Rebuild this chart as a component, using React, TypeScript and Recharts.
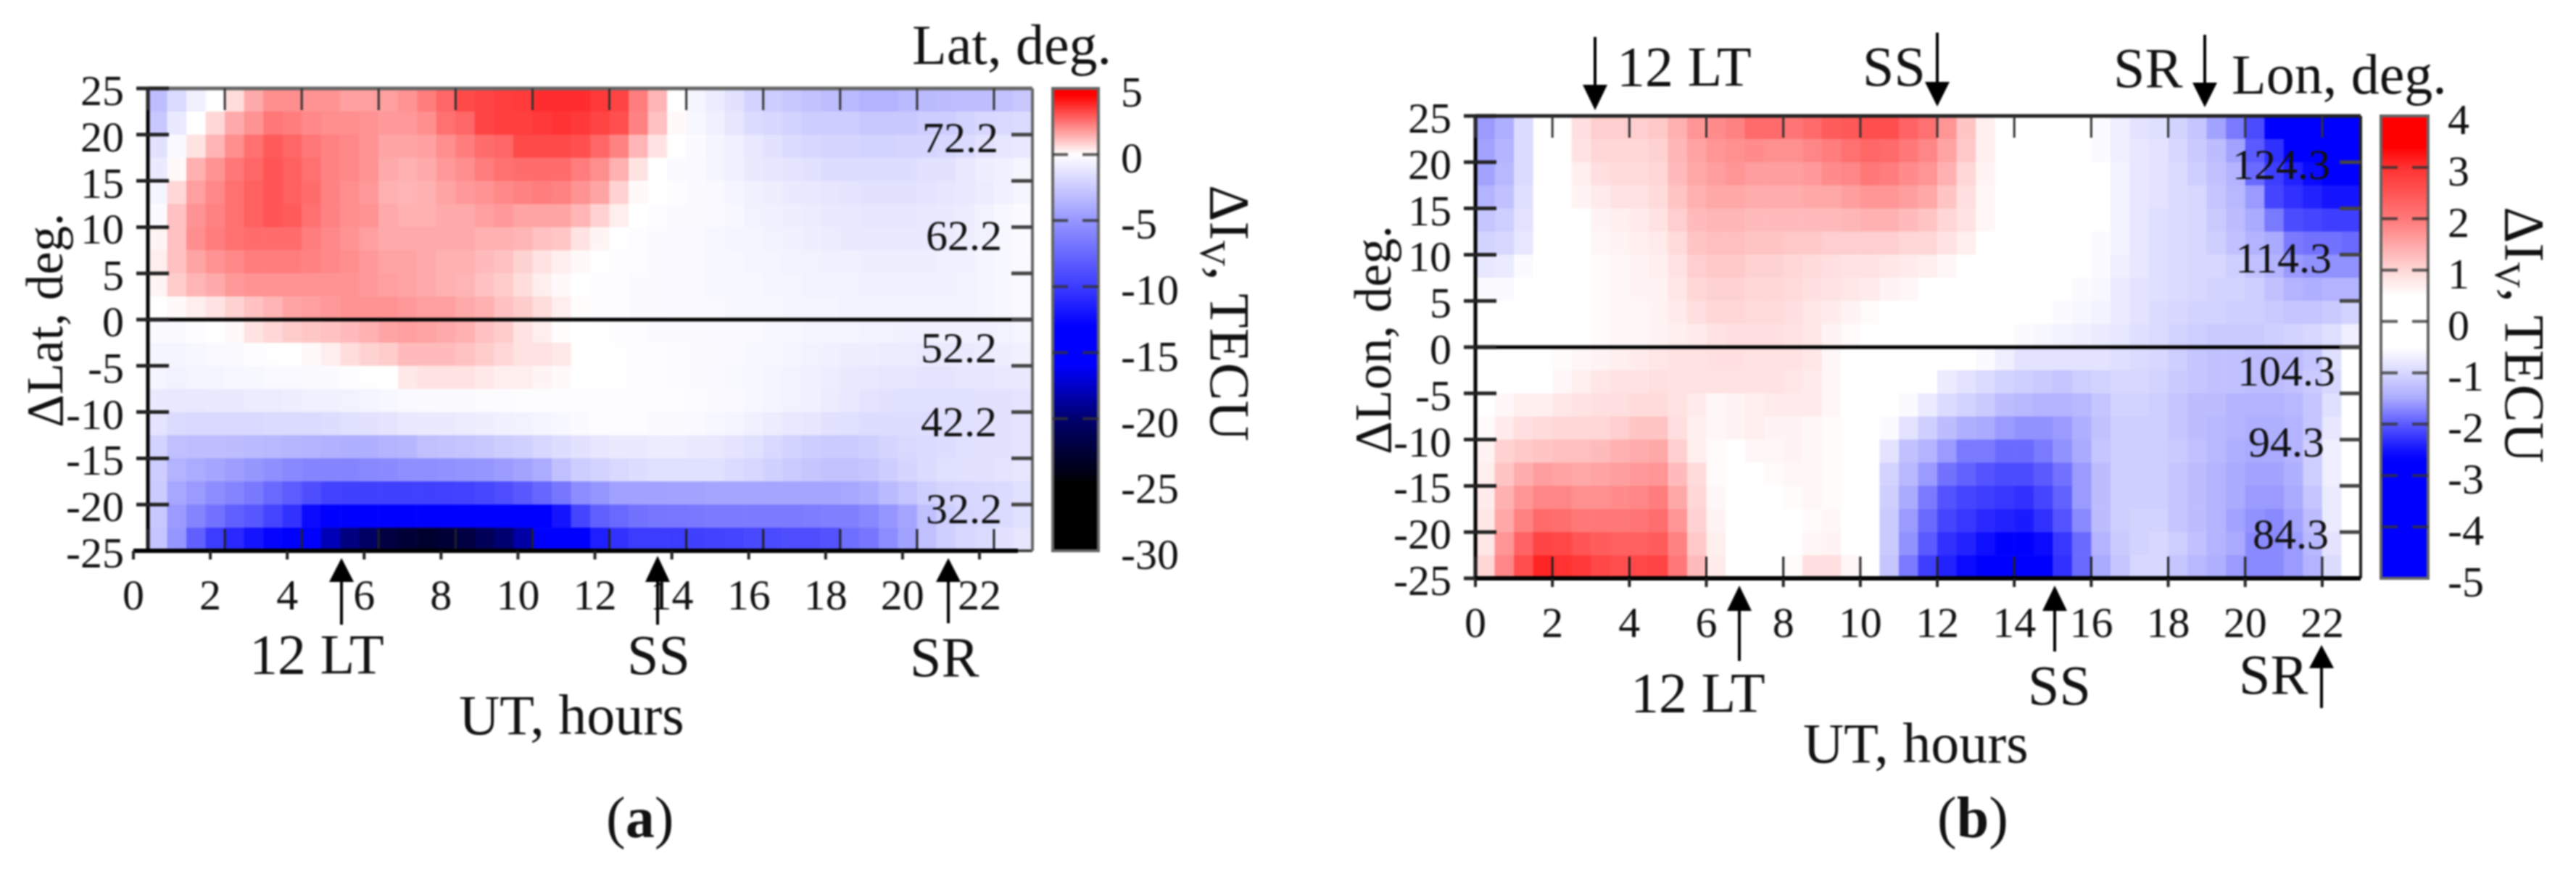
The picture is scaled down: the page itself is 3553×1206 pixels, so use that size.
import React from "react";
import { ScatterChart, Scatter, XAxis, YAxis, ReferenceLine, ReferenceArea } from "recharts";

const UT_TICKS = [0, 2, 4, 6, 8, 10, 12, 14, 16, 18, 20, 22];
const OFFSET_TICKS = [25, 20, 15, 10, 5, 0, -5, -10, -15, -20, -25];
const LAT_BAR_TICKS = [5, 0, -5, -10, -15, -20, -25, -30];
const LON_BAR_TICKS = [4, 3, 2, 1, 0, -1, -2, -3, -4, -5];
const LAT_LABELS = ["72.2", "62.2", "52.2", "42.2", "32.2"];
const LON_LABELS = ["124.3", "114.3", "104.3", "94.3", "84.3"];

// rows run from +25 (top) down to -25 in 2.5 degree bins; columns are half-hour UT bins
const LAT_ROWS: number[][] = [
  [-3.1,-1.7,-0.7,0,0.6, 1.5,2,2,1.9,1.9, 1.7,1.7,1.7,1.9,2.3, 2.7,3.2,3.3,3.4,3.45, 3.7,3.7,3.7,3.5,3.3, 2.3,1.3,0,-0.5,-0.9, -1.4,-2.1,-2.4,-2.6,-2.9, -3.1,-3.3,-3.6,-3.6,-3.3, -3.3,-3.2,-3.1,-3.1,-2.9, -2.6],
  [-2.6,-1,0,.7,1.5, 1.9,2.4,2.3,2.1,2, 2,1.9,1.8,1.8,2, 2.5,2.7,3.3,3.4,3.4, 3.5,3.6,3.5,3.3,3.1, 2.2,1.1,.1,-.4,-.7, -1.2,-1.7,-1.9,-2.1,-2.4, -2.4,-2.4,-2.6,-2.6,-2.6, -2.4,-2.4,-2.1,-1.9,-1.8, -1.7],
  [-1.4,-.3,.5,1.3,2, 2.5,2.9,2.7,2.4,2.2, 2.1,1.9,1.6,1.6,1.7, 2,2.3,2.6,2.7,3.2, 3.2,3.2,3.1,2.7,2.2, 1.3,.5,0,-.2,-.5, -.7,-1.1,-1.4,-1.7,-1.9, -2,-2,-2.1,-2.1,-2, -2,-1.9,-1.7,-1.4,-1.2, -1.1],
  [-1,.1,1.4,1.9,2.4, 2.7,3,2.8,2.5,2.2, 2.1,1.9,1.5,1.4,1.5, 1.8,2,2.3,2.5,2.6, 2.6,2.6,2.3,2,1.4, .5,0,-.2,-.3,-.5, -.7,-1,-1.2,-1.3,-1.4, -1.6,-1.6,-1.6,-1.6,-1.6, -1.4,-1.4,-1.1,-.8,-.7, -.5],
  [-.5,.7,1.7,2.1,2.5, 2.8,3,2.8,2.6,2.2, 2,1.8,1.4,1.3,1.4, 1.6,1.8,1.9,2.1,2.2, 2.3,2.2,1.9,1.6,.8, .1,0,-.1,-.2,-.3, -.5,-.7,-.8,-1,-1.1, -1.2,-1.3,-1.4,-1.4,-1.4, -1.3,-1.2,-1.1,-.9,-.7, -.5],
  [-.2,1.1,1.9,2.2,2.5, 2.8,3,2.9,2.5,2.2, 2,1.9,1.5,1.4,1.4, 1.5,1.5,1.7,1.8,1.6, 1.6,1.6,1.3,.8,.3, 0,-.1,-.2,-.2,-.3, -.4,-.6,-.7,-.8,-.9, -1,-1.1,-1.2,-1.2,-1.2, -1.1,-1,-.9,-.6,-.4, -.2],
  [.2,1.1,2,2.3,2.5, 2.6,2.6,2.6,2.3,2.1, 1.9,1.7,1.5,1.5,1.5, 1.5,1.5,1.4,1.4,1.3, 1.1,1,.5,.2,0, -.1,-.2,-.3,-.3,-.4, -.5,-.5,-.6,-.7,-.8, -.9,-1,-1,-1,-1, -1,-.9,-.8,-.6,-.4, -.2],
  [.3,1.1,1.6,1.9,2.1, 2.3,2.3,2.3,2.2,2.1, 2,1.8,1.6,1.6,1.5, 1.4,1.4,1.2,1.1,.8, .5,.3,.1,0,-.1, -.1,-.2,-.3,-.3,-.4, -.4,-.5,-.5,-.6,-.6, -.7,-.7,-.8,-.8,-.8, -.8,-.7,-.7,-.5,-.4, -.3],
  [.2,.9,1.3,1.5,1.8, 1.9,1.9,1.9,1.9,1.9, 1.9,1.8,1.7,1.6,1.5, 1.4,1.3,1.1,.9,.6, .3,.1,0,-.1,-.1, -.2,-.2,-.3,-.3,-.4, -.4,-.4,-.5,-.5,-.6, -.6,-.6,-.7,-.7,-.7, -.7,-.7,-.6,-.5,-.4, -.3],
  [0,.1,.3,.5,.8, 1.1,1.3,1.6,1.7,1.8, 1.9,1.9,1.9,1.8,1.7, 1.7,1.5,1.4,1.1,.9, .6,.3,.05,-.1,-.1, -.2,-.2,-.3,-.3,-.3, -.4,-.4,-.4,-.5,-.5, -.5,-.6,-.6,-.6,-.6, -.6,-.6,-.6,-.5,-.4, -.3],
  [-.2,-.2,-.1,0,.1, .5,.7,.9,1,1.1, 1.2,1.4,1.6,1.7,1.6, 1.5,1.4,1.1,.9,.5, .3,.05,0,-.05,-.1, -.1,-.2,-.2,-.2,-.3, -.3,-.3,-.4,-.4,-.5, -.5,-.5,-.6,-.6,-.7, -.7,-.7,-.7,-.7,-.6, -.5],
  [-.5,-.5,-.4,-.3,-.2, -.1,-.05,0,.1,.3, .6,.8,.9,1.2,1.2, 1.2,1.1,.9,.7,.5, .5,.4,0,0,-.05, -.1,-.1,-.15,-.2,-.25, -.3,-.4,-.4,-.5,-.6, -.7,-.8,-.8,-.9,-.9, -1,-1,-1,-.9,-.8, -.7],
  [-.5,-.6,-.5,-.5,-.4, -.4,-.3,-.3,-.2,-.2, -.1,-.05,0,.4,.5, .5,.5,.4,.3,.3, .2,.1,0,0,-.05, -.1,-.1,-.15,-.2,-.3, -.35,-.4,-.5,-.6,-.7, -.85,-1,-1.1,-1.2,-1.2, -1.3,-1.3,-1.2,-1.2,-1.1, -1],
  [-1,-1.1,-1.1,-1,-1, -.9,-.9,-.8,-.7,-.7, -.6,-.5,-.4,-.3,-.25, -.2,-.2,-.15,-.15,-.1, -.1,-.1,-.1,-.1,-.1, -.1,-.1,-.1,-.15,-.2, -.3,-.4,-.5,-.6,-.7, -.9,-1.1,-1.3,-1.4,-1.5, -1.5,-1.5,-1.5,-1.4,-1.4, -1.3],
  [-1.3,-1.7,-1.8,-1.8,-1.8, -1.8,-1.7,-1.7,-1.7,-1.6, -1.5,-1.4,-1.3,-1.1,-1, -1,-.9,-.8,-.7,-.6, -.5,-.4,-.2,-.1,-.1, -.1,-.2,-.2,-.3,-.4, -.5,-.7,-.9,-1.1,-1.2, -1.4,-1.5,-1.6,-1.6,-1.6, -1.6,-1.6,-1.5,-1.4,-1.4, -1.3],
  [-2.1,-3,-3.1,-3.1,-3.2, -3.3,-3.4,-3.5,-3.6,-3.7, -3.8,-3.8,-3.6,-3.5,-3, -2.9,-2.8,-2.6,-2.4,-2.2, -1.9,-1.6,-1.4,-1.2,-1, -1,-.9,-.9,-1,-1.1, -1.3,-1.5,-1.8,-2.1,-2.4, -2.5,-2.5,-2.3,-2,-1.8, -1.7,-1.6,-1.5,-1.4,-1.4, -1.3],
  [-2.4,-3.6,-4,-4.3,-4.6, -5,-5.4,-5.8,-6,-6, -6,-5.8,-5.6,-5.4,-5.4, -5.3,-5.1,-5,-4.7,-4.4, -4,-3,-2.4,-2.1,-1.8, -1.6,-1.5,-1.5,-1.5,-1.5, -1.7,-1.9,-2.2,-2.5,-2.7, -2.9,-2.9,-2.7,-2.4,-2, -1.7,-1.5,-1.4,-1.4,-1.3, -1.2],
  [-2.5,-4.2,-4.8,-5.5,-6, -6.6,-7.5,-8.2,-9,-9.6, -9.8,-9.8,-9.8,-9.8,-9.8, -9.7,-9.6,-9.4,-9,-8.4, -7.6,-6.8,-5.5,-5,-4.5, -4.5,-4.5,-4.4,-4.4,-4.3, -4.3,-4.3,-4.3,-4.3,-4.3, -4.3,-4.2,-3.9,-3.3,-2.8, -2.3,-2,-1.9,-1.8,-1.7, -1.5],
  [-2.6,-4.8,-6,-7,-8, -8.5,-9.5,-10.5,-12.5,-13.5, -14,-14,-14,-14,-14, -14,-14,-14,-14,-14, -13.5,-12,-9.5,-8,-7.5, -7,-6.8,-6.7,-6.6,-6.5, -6.5,-6.5,-6.5,-6.5,-6.4, -6.3,-6.2,-5.8,-5,-4.3, -3,-2.3,-2,-1.9,-1.7, -1.5],
  [-2.8,-5,-8,-10,-11, -12,-12.8,-14,-15,-18, -19.5,-20.5,-22,-22.5,-23, -22.5,-22,-21,-20,-18.5, -15,-14,-13,-11.5,-10.5, -10,-10,-10,-9.8,-9.6, -9.5,-9.3,-9.2,-9,-9, -8.8,-7.2,-6.8,-5.5,-4.5, -3,-2.3,-1.9,-1.7,-1.4, -1.2],
];

const LON_ROWS: number[][] = [
  [-1.6,-1.45,-.95,0,0, .9,1.1,1.1,1.1,1.15, 1.4,1.7,1.8,1.9,2.2, 2.2,2.05,2.2,2.4,2.45, 2.6,2.6,2.3,2.1,1.7, 1.2,.7,0,0,0, 0,0,-.55,-.7,-.85, -.9,-1.05,-1.2,-1.55,-1.8, -2.1,-2.7,-2.8,-3,-3, -3],
  [-1.55,-1.4,-.95,0,0, .85,1,1,1,1.05, 1.35,1.55,1.7,1.75,1.8, 1.75,1.75,1.85,1.95,2.1, 2.25,2.2,2,1.85,1.55, 1.15,.7,0,0,0, 0,0,-.55,-.7,-.8, -.85,-1,-1.15,-1.3,-1.55, -2,-2.3,-2.8,-3,-3, -3],
  [-1.55,-1.35,-.95,0,0, .7,.9,.95,.95,1, 1.3,1.5,1.6,1.7,1.6, 1.6,1.6,1.65,1.8,1.85, 2,1.95,1.8,1.7,1.4, 1,.65,0,0,0, 0,0,-.5,-.65,-.8, -.85,-.95,-1.1,-1.25,-1.4, -1.9,-2.2,-2.4,-2.6,-2.7, -2.8],
  [-1.4,-1.25,-.9,0,0, .65,.75,.85,.85,.95, 1.2,1.4,1.5,1.5,1.45, 1.45,1.45,1.5,1.5,1.6, 1.7,1.7,1.6,1.5,1.2, .9,.6,0,0,0, 0,0,-.5,-.65,-.8, -.85,-.95,-1,-1.2,-1.35, -1.6,-2.15,-2.3,-2.4,-2.5, -2.5],
  [-1.2,-1.1,-.85,0,0, 0,.65,.7,.75,.85, 1.1,1.3,1.35,1.35,1.3, 1.3,1.3,1.3,1.3,1.35, 1.4,1.4,1.3,1.2,1, .85,.6,0,0,0, 0,0,-.5,-.65,-.8, -.9,-.95,-1,-1.15,-1.3, -1.5,-1.8,-2.1,-2.15,-2.2, -2.2],
  [-1.05,-1,-.8,0,0, 0,.6,.65,.7,.75, .95,1.2,1.25,1.25,1.2, 1.2,1.15,1.15,1.1,1.1, 1.1,1.1,1,1,.85, .7,0,0,0,0, 0,0,-.55,-.65,-.8, -.9,-.95,-1,-1.1,-1.25, -1.4,-1.5,-1.8,-1.85,-1.85, -1.9],
  [-.8,-.75,-.55,0,0, 0,.55,.6,.65,.7, .85,1.1,1.15,1.15,1.05, 1.05,1,.95,.9,.85, .85,.8,.75,.7,.6, 0,0,0,0,0, 0,0,-.55,-.7,-.8, -.9,-.95,-1,-1,-1.1, -1.25,-1.4,-1.6,-1.65,-1.65, -1.65],
  [-.55,-.55,0,0,0, 0,.55,.6,.65,.65, .8,1,1.05,1.05,1, 1,.95,.9,.85,.8, .75,.65,.6,0,0, 0,0,0,0,0, -.5,-.55,-.6,-.75,-.85, -.9,-.95,-1,-1.05,-1.05, -1.1,-1.25,-1.4,-1.45,-1.4, -1.4],
  [0,0,0,0,0, 0,.55,.6,.6,.65, .75,.9,1,1,.95, .95,.9,.8,.75,.65, .55,0,0,0,0, 0,0,0,-.5,-.5, -.55,-.6,-.65,-.75,-.85, -.95,-1,-1.05,-1.05,-1.1, -1.1,-1.15,-1.2,-1.2,-1.15, -1.05],
  [0,0,0,0,0, 0,.55,.6,.6,.65, .7,.75,.85,.9,.9, .9,.85,.8,.65,.55, 0,0,0,0,0, 0,0,-.5,-.55,-.6, -.65,-.7,-.75,-.8,-.9, -.95,-1.05,-1.1,-1.15,-1.15, -1.15,-1.1,-1.05,-1,-.9, -.7],
  [0,0,0,0,.55, .6,.65,.7,.75,.8, .85,.85,.9,.9,.85, .85,.85,.8,.6,0, 0,0,0,0,0, 0,-.55,-.7,-.85,-.85, -.85,-.85,-.85,-.9,-.95, -1,-1.1,-1.2,-1.25,-1.25, -1.3,-1.3,-1.3,-1.2,-.9, 0],
  [0,0,0,0,.6, .7,.8,.85,.85,.9, .85,.85,.85,.85,.85, .85,.8,.75,.6,0, 0,0,0,-.5,-.75, -.85,-.95,-1.05,-1.1,-1.15, -1.2,-1.1,-1.05,-1,-1, -1.05,-1.15,-1.2,-1.25,-1.25, -1.3,-1.3,-1.25,-1.15,-1, 0],
  [0,.6,.7,.7,.8, .85,.9,.9,.95,.95, .85,.75,.6,.65,.7, .75,.75,.75,.6,0, 0,0,-.55,-.75,-.95, -1.05,-1.15,-1.3,-1.35,-1.4, -1.4,-1.35,-1.2,-1.05,-1.05, -1.1,-1.2,-1.3,-1.3,-1.4, -1.4,-1.4,-1.35,-1.2,-.9, 0],
  [.55,.75,.9,.95,1, 1,1,1.1,1.2,1.2, .9,.7,.6,.65,.7, .65,.65,.6,.55,0, 0,-.55,-.85,-1.1,-1.3, -1.45,-1.5,-1.6,-1.65,-1.65, -1.6,-1.45,-1.25,-1.1,-1.1, -1.1,-1.2,-1.3,-1.35,-1.4, -1.45,-1.45,-1.4,-1.2,-.8, 0],
  [.65,1.05,1.15,1.2,1.25, 1.25,1.3,1.4,1.45,1.5, 1.1,.7,.55,0,.6, .6,.65,.6,.55,0, 0,-.85,-1.25,-1.4,-1.6, -1.8,-1.8,-1.9,-1.9,-1.8, -1.65,-1.5,-1.2,-1.1,-1.1, -1.1,-1.15,-1.25,-1.35,-1.45, -1.5,-1.5,-1.4,-1.1,-.7, 0],
  [.7,1.2,1.45,1.6,1.55, 1.5,1.55,1.6,1.65,1.7, 1.3,.95,.55,0,0, .55,.6,.6,.55,0, 0,-1.05,-1.35,-1.6,-1.85, -1.95,-2.05,-2.1,-2.1,-2, -1.85,-1.6,-1.3,-1.1,-1.1, -1.1,-1.2,-1.3,-1.4,-1.5, -1.55,-1.55,-1.45,-1.1,-.7, 0],
  [.75,1.4,1.7,1.85,1.85, 1.75,1.75,1.8,1.85,1.95, 1.5,1,.6,0,0, 0,.55,.6,.55,0, 0,-1.1,-1.5,-1.8,-2.05, -2.15,-2.2,-2.25,-2.3,-2.15, -1.95,-1.6,-1.3,-1.1,-1.1, -1.1,-1.2,-1.3,-1.4,-1.5, -1.6,-1.6,-1.5,-1.2,-.75, 0],
  [.8,1.5,1.9,2.2,2.15, 2,2,2,2.05,2.15, 1.7,1.05,.65,0,0, 0,.5,.55,.6,0, 0,-1.15,-1.6,-1.9,-2.15, -2.25,-2.35,-2.4,-2.45,-2.3, -2.05,-1.7,-1.3,-1.1,-1.05, -1.05,-1.2,-1.3,-1.4,-1.55, -1.65,-1.7,-1.55,-1.3,-.75, -.5],
  [.8,1.7,2.3,2.75,2.7, 2.5,2.4,2.35,2.35,2.4, 1.9,1.15,.7,0,0, 0,.5,.6,.65,.5, 0,-1.15,-1.65,-2,-2.3, -2.4,-2.55,-2.7,-2.8,-2.6, -2.25,-1.9,-1.4,-1.15,-1.05, -1,-1.1,-1.25,-1.4,-1.5, -1.7,-1.7,-1.6,-1.35,-.85, -.5],
  [1,1.85,2.6,3.1,3, 2.9,2.7,2.6,2.7,2.75, 2,1.3,.75,0,0, 0,.55,.9,.9,.6, 0,-1.2,-1.8,-2.2,-2.4, -2.6,-2.7,-2.9,-3,-2.8, -2.3,-1.9,-1.5,-1.2,-1, -1,-1.2,-1.35,-1.45,-1.6, -1.7,-1.7,-1.6,-1.4,-.95, 0],
];

// value, r, g, b
type Stop = [number, number, number, number];
const LAT_STOPS: Stop[] = [[5,255,0,0],[4.5,255,0,0],[0,255,255,255],[-5,150,150,255],[-10,60,60,255],[-13,0,0,255],[-16,0,0,255],[-20,0,0,110],[-25,0,0,0],[-30,0,0,0]];
const LON_STOPS: Stop[] = [[4,255,0,0],[3.4,255,0,0],[3,255,50,50],[2,255,120,120],[1,255,215,215],[.5,255,255,255],[-.5,255,255,255],[-1,215,215,255],[-1.5,170,170,255],[-2,90,90,255],[-2.5,20,20,255],[-2.7,0,0,255],[-5,0,0,255]];
// one invisible point so that Recharts resolves an axis that carries no data of its own
const AXIS_ANCHOR = [{ x: 0, y: 0 }];

const colorOf = (v: number, stops: Stop[]) => {
  if (v >= stops[0][0]) return `rgb(${stops[0][1]},${stops[0][2]},${stops[0][3]})`;
  for (let i = 1; i < stops.length; i++) {
    const a = stops[i - 1], b = stops[i];
    if (v >= b[0]) {
      const t = (a[0] - v) / (a[0] - b[0]);
      const m = (k: number) => Math.round(a[k] + (b[k] - a[k]) * t);
      return `rgb(${m(1)},${m(2)},${m(3)})`;
    }
  }
  const l = stops[stops.length - 1];
  return `rgb(${l[1]},${l[2]},${l[3]})`;
};

const toCells = (rows: number[][]) =>
  rows.flatMap((row, r) => row.map((v, c) => ({ x: c * 0.5 + 0.25, y: 25 - r * 2.5 - 1.25, v })));

const W = 3553, H = 1206;
const FONT = "'Liberation Serif', serif";
const INK = "#111";
const layer: React.CSSProperties = { position: "absolute", left: 0, top: 0, width: W, height: H };
const AXIS = 40;
const noShape = () => <g />;

const LeftTick = (p: any) => (
  <g>
    <line x1={p.x - 16} x2={p.x + 29} y1={p.y} y2={p.y} stroke="#222" strokeWidth={5} />
    <text x={p.x - 33} y={p.y + 23} textAnchor="end" fontSize={60} fontFamily={FONT} fill={INK}>{p.payload.value}</text>
  </g>
);
const RightTick = (p: any) => <line x1={p.x - 29} x2={p.x} y1={p.y} y2={p.y} stroke="#444" strokeWidth={5} />;
const TopTick = (p: any) => <line x1={p.x} x2={p.x} y1={p.y} y2={p.y + 30} stroke="#333" strokeWidth={3} />;
const InnerBottomTick = (p: any) => <line x1={p.x} x2={p.x} y1={p.y} y2={p.y - 30} stroke="#222" strokeWidth={3} />;
const OuterBottomTick = (p: any) => (
  <g>
    <line x1={p.x} x2={p.x} y1={p.y} y2={p.y + 12} stroke="#222" strokeWidth={4} />
    <text x={p.x} y={p.y + 81} textAnchor="middle" fontSize={60} fontFamily={FONT} fill={INK}>{p.payload.value}</text>
  </g>
);

type PanelProps = {
  rows: number[][]; stops: Stop[]; x0: number; x1: number; y0: number; y1: number;
  axisShift: number; frame: string;
};

const HeatPanel = ({ rows, stops, x0, x1, y0, y1, axisShift, frame }: PanelProps) => {
  const cw = (x1 - x0) / rows[0].length;
  const ch = (y1 - y0) / rows.length;
  const shape = (p: any) => (
    <rect x={p.cx - cw / 2} y={p.cy - ch / 2} width={cw + 0.6} height={ch + 0.6} fill={colorOf(p.payload.v, stops)} />
  );
  return (
    <>
      <div style={layer}>
        <ScatterChart width={W} height={H} margin={{ left: x0, right: W - x1, top: y0, bottom: H - y1 }}>
          <Scatter data={toCells(rows)} dataKey="y" shape={shape} isAnimationActive={false} />
          <XAxis type="number" dataKey="x" domain={[0, 23]} hide />
          <YAxis type="number" dataKey="y" domain={[-25, 25]} hide />
        </ScatterChart>
      </div>
      <div style={layer}>
        <ScatterChart width={W} height={H} margin={{ left: x0 - AXIS, right: W - x1 - AXIS, top: y0 - AXIS, bottom: H - y1 - AXIS }}>
          <Scatter data={AXIS_ANCHOR} xAxisId="b" yAxisId="l" dataKey="y" shape={noShape} isAnimationActive={false} />
          <Scatter data={AXIS_ANCHOR} xAxisId="t" yAxisId="r" dataKey="y" shape={noShape} isAnimationActive={false} />
          <XAxis xAxisId="t" orientation="top" type="number" dataKey="x" domain={[0, 23]} ticks={UT_TICKS} interval={0} height={AXIS} tickSize={0} tickMargin={0} tickLine={false} axisLine={{ stroke: frame, strokeWidth: 5 }} tick={TopTick} />
          <XAxis xAxisId="b" orientation="bottom" type="number" dataKey="x" domain={[0, 23]} ticks={UT_TICKS} interval={0} height={AXIS} tickSize={0} tickMargin={0} tickLine={false} axisLine={{ stroke: "#444", strokeWidth: 4 }} tick={InnerBottomTick} />
          <YAxis yAxisId="l" orientation="left" type="number" dataKey="y" domain={[-25, 25]} ticks={OFFSET_TICKS} interval={0} width={AXIS} tickSize={0} tickMargin={0} tickLine={false} axisLine={{ stroke: "#000", strokeWidth: 5 }} tick={LeftTick} />
          <YAxis yAxisId="r" orientation="right" type="number" dataKey="y" domain={[-25, 25]} ticks={OFFSET_TICKS.slice(1, -1)} interval={0} width={AXIS} tickSize={0} tickMargin={0} tickLine={false} axisLine={{ stroke: frame, strokeWidth: 4 }} tick={RightTick} />
          <ReferenceLine xAxisId="b" yAxisId="l" y={0} stroke="#000" strokeWidth={5} />
        </ScatterChart>
      </div>
      <div style={layer}>
        <ScatterChart width={W} height={H} margin={{ left: x0 + axisShift, right: W - x1 - axisShift, top: y0, bottom: H - y1 - AXIS }}>
          <Scatter data={AXIS_ANCHOR} dataKey="y" shape={noShape} isAnimationActive={false} />
          <XAxis orientation="bottom" type="number" dataKey="x" domain={[0, 23]} ticks={UT_TICKS} interval={0} height={AXIS} tickSize={0} tickMargin={0} tickLine={false} axisLine={{ stroke: "#000", strokeWidth: 6 }} tick={OuterBottomTick} />
          <YAxis type="number" dataKey="y" domain={[-25, 25]} hide />
        </ScatterChart>
      </div>
    </>
  );
};

type BarProps = { id: string; stops: Stop[]; ticks: number[]; dashed: number[]; x0: number; x1: number; y0: number; y1: number; textX: number };

const ColorBar = ({ id, stops, ticks, dashed, x0, x1, y0, y1, textX }: BarProps) => {
  const top = ticks[0], bottom = ticks[ticks.length - 1];
  const barTick = (p: any) => (
    <text x={textX} y={p.y + 25} fontSize={60} fontFamily={FONT} fill={INK}>{p.payload.value}</text>
  );
  return (
    <div style={layer}>
      <ScatterChart width={W} height={H} margin={{ left: x0, right: W - x1 - AXIS, top: y0, bottom: H - y1 }}>
        <defs>
          <linearGradient id={id} x1="0" y1="0" x2="0" y2="1">
            {stops.map((s, i) => (
              <stop key={i} offset={(top - s[0]) / (top - bottom)} stopColor={`rgb(${s[1]},${s[2]},${s[3]})`} />
            ))}
          </linearGradient>
        </defs>
        <Scatter data={AXIS_ANCHOR} dataKey="y" shape={noShape} isAnimationActive={false} />
        <XAxis type="number" dataKey="x" domain={[0, 1]} hide />
        <YAxis orientation="right" type="number" dataKey="y" domain={[bottom, top]} ticks={ticks} interval={0} width={AXIS} tickSize={0} tickMargin={0} tickLine={false} axisLine={false} tick={barTick} />
        <ReferenceArea x1={0} x2={1} y1={bottom} y2={top} fill={`url(#${id})`} fillOpacity={1} stroke="#666" strokeWidth={4} />
        {dashed.map((d) => (
          <ReferenceLine key={d} y={d} stroke="#333" strokeOpacity={0.8} strokeWidth={4} strokeDasharray="22 20" />
        ))}
      </ScatterChart>
    </div>
  );
};

const Txt = ({ x, y, s, anchor = "start", size = 78 }: { x: number; y: number; s: React.ReactNode; anchor?: string; size?: number }) => (
  <text x={x} y={y} fontSize={size} textAnchor={anchor as any} fontFamily={FONT} fill={INK}>{s}</text>
);

const Arrow = ({ x, tip, base, end }: { x: number; tip: number; base: number; end: number }) => (
  <g>
    <line x1={x} x2={x} y1={base} y2={end} stroke="#000" strokeWidth={4} />
    <polygon points={`${x},${tip} ${x - 17},${base} ${x + 17},${base}`} fill="#000" />
  </g>
);

const RotLabel = ({ x, y, angle, size, children }: { x: number; y: number; angle: number; size: number; children: React.ReactNode }) => (
  <text transform={`translate(${x},${y}) rotate(${angle})`} textAnchor="middle" fontSize={size} fontFamily={FONT} fill={INK}>{children}</text>
);

const Annotations = () => (
  <svg style={layer} width={W} height={H}>
    <Txt x={1258} y={88} s="Lat, deg." />
    <RotLabel x={86} y={442} angle={-90} size={71}>ΔLat, deg.</RotLabel>
    <RotLabel x={1670} y={432} angle={90} size={78}>ΔI<tspan dy="14" fontSize={50}>V</tspan><tspan dy="-14">, TECU</tspan></RotLabel>
    {LAT_LABELS.map((s, i) => (
      <Txt key={s} x={[1377, 1382, 1375, 1375, 1382][i]} y={[210, 345, 500, 602, 722][i]} s={s} anchor="end" size={60} />
    ))}
    <Arrow x={471} tip={770} base={803} end={862} />
    <Arrow x={907} tip={767} base={803} end={862} />
    <Arrow x={1308} tip={770} base={803} end={860} />
    <Txt x={344} y={929} s="12 LT" />
    <Txt x={865} y={930} s="SS" />
    <Txt x={1255} y={933} s="SR" />
    <Txt x={633} y={1013} s="UT, hours" />
    <text x={836} y={1155} fontSize={80} fontFamily={FONT} fill={INK}>(<tspan fontWeight="bold">a</tspan>)</text>

    <Txt x={3078} y={129} s="Lon, deg." />
    <RotLabel x={1918} y={469} angle={-90} size={71}>ΔLon, deg.</RotLabel>
    <RotLabel x={3456} y={462} angle={90} size={78}>ΔI<tspan dy="14" fontSize={50}>V</tspan><tspan dy="-14">, TECU</tspan></RotLabel>
    {LON_LABELS.map((s, i) => (
      <Txt key={s} x={[3214, 3216, 3221, 3206, 3212][i]} y={[247, 376, 532, 630, 757][i]} s={s} anchor="end" size={60} />
    ))}
    <Arrow x={2200} tip={152} base={117} end={51} />
    <Arrow x={2672} tip={147} base={113} end={45} />
    <Arrow x={3041} tip={148} base={114} end={48} />
    <Arrow x={2399} tip={808} base={843} end={912} />
    <Arrow x={2834} tip={808} base={843} end={899} />
    <Arrow x={3202} tip={890} base={922} end={977} />
    <Txt x={2230} y={118} s="12 LT" />
    <Txt x={2569} y={118} s="SS" />
    <Txt x={2915} y={120} s="SR" />
    <Txt x={2249} y={982} s="12 LT" />
    <Txt x={2797} y={972} s="SS" />
    <Txt x={3088} y={957} s="SR" />
    <Txt x={2487} y={1052} s="UT, hours" />
    <text x={2672} y={1155} fontSize={80} fontFamily={FONT} fill={INK}>(<tspan fontWeight="bold">b</tspan>)</text>
  </svg>
);

export default function App() {
  return (
    <div style={{ ...layer, background: "#fff", overflow: "hidden", filter: "blur(1.2px)" }}>
      <style>{"body{margin:0}"}</style>
      <HeatPanel rows={LAT_ROWS} stops={LAT_STOPS} x0={204} x1={1424} y0={122} y1={760} axisShift={-20} frame="#666" />
      <ColorBar id="latBar" stops={LAT_STOPS} ticks={LAT_BAR_TICKS} dashed={[0, -5, -10, -15, -20]} x0={1452} x1={1515} y0={122} y1={760} textX={1546} />
      <HeatPanel rows={LON_ROWS} stops={LON_STOPS} x0={2035} x1={3256} y0={160} y1={798} axisShift={0} frame="#222" />
      <ColorBar id="lonBar" stops={LON_STOPS} ticks={LON_BAR_TICKS} dashed={[3, 2, 1, 0, -1, -2, -3, -4]} x0={3284} x1={3349} y0={160} y1={798} textX={3376} />
      <Annotations />
    </div>
  );
}
